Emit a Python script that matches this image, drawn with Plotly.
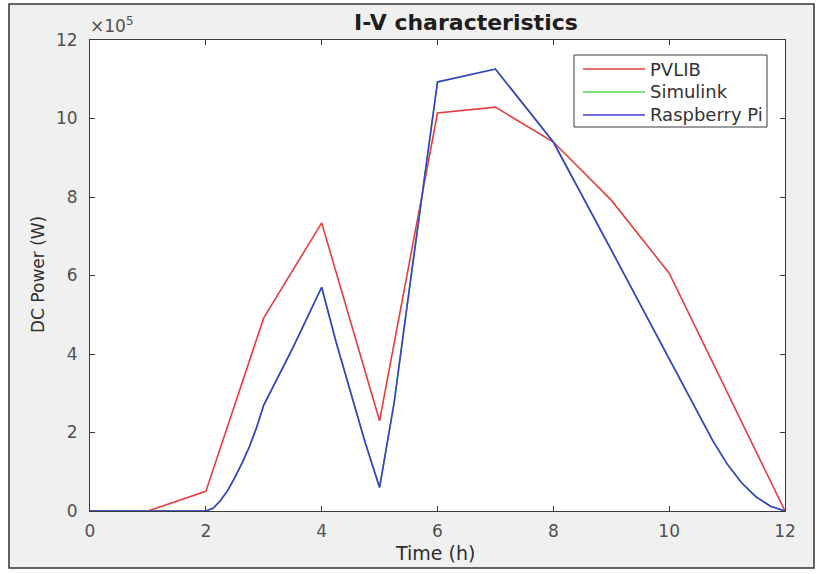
import plotly.graph_objects as go

# ---- data (W) ----
t_pvlib = [0, 1, 2, 3, 4, 5, 6, 7, 8, 9, 10, 11, 12]
p_pvlib = [0, 0, 0.5e5, 4.92e5, 7.34e5, 2.3e5, 10.14e5, 10.29e5, 9.4e5, 7.92e5, 6.06e5, 3.03e5, 0]

t_rpi = [0, 1, 2, 2.125, 2.25, 2.375, 2.5, 2.625, 2.75, 2.875, 3, 3.5, 4,
         4.25, 4.5, 4.75, 5, 5.25, 5.5, 5.75, 6, 7, 8, 9, 10,
         10.25, 10.5, 10.75, 11, 11.25, 11.5, 11.75, 12]
p_rpi = [0, 0, 0, 0.07e5, 0.26e5, 0.52e5, 0.85e5, 1.22e5, 1.63e5, 2.12e5, 2.7e5, 4.15e5, 5.7e5,
         4.3e5, 3.0e5, 1.75e5, 0.6e5, 2.75e5, 5.5e5, 8.2e5, 10.93e5, 11.26e5, 9.4e5, 6.65e5, 3.9e5,
         3.2e5, 2.5e5, 1.8e5, 1.2e5, 0.72e5, 0.36e5, 0.12e5, 0]

# Simulink coincides with the Raspberry Pi curve (hidden underneath)
t_sim = list(t_rpi)
p_sim = list(p_rpi)

series_names = ["PVLIB", "Simulink", "Raspberry Pi"]
series_colors = ["rgb(228,62,62)", "rgb(80,215,80)", "rgb(60,60,208)"]

x_ticks = [0, 2, 4, 6, 8, 10, 12]
y_ticks = [0, 2e5, 4e5, 6e5, 8e5, 10e5, 12e5]
y_ticktext = ["0", "2", "4", "6", "8", "10", "12"]

FONT = "DejaVu Sans, Liberation Sans, Arial, sans-serif"
W, H = 818, 574
L, R, T, B = 90, 785, 40, 511  # plot area px

def px2x(px):
    return (px - L) / (R - L)

def px2y(py):
    return (B - py) / (B - T)

fig = go.Figure()
for t, p, name, col in [(t_pvlib, p_pvlib, series_names[0], series_colors[0]),
                        (t_sim, p_sim, series_names[1], series_colors[1]),
                        (t_rpi, p_rpi, series_names[2], series_colors[2])]:
    fig.add_trace(go.Scatter(x=t, y=p, mode="lines", name=name,
                             line=dict(color=col, width=1.6), showlegend=False))

axis_common = dict(showgrid=False, zeroline=False, showline=True, linecolor="#3a3a3a",
                   linewidth=1, mirror="allticks", ticks="inside", ticklen=5,
                   tickcolor="#3a3a3a", tickfont=dict(family=FONT, size=17, color="#505050"))

fig.update_xaxes(range=[0, 12], tickvals=x_ticks, ticklabelstandoff=5, **axis_common)
fig.update_yaxes(range=[0, 12e5], tickvals=y_ticks, ticktext=y_ticktext,
                 ticklabelstandoff=8, **axis_common)

shapes = []
annotations = []

# outer frame: white strips outside, dark outline
fx0, fx1, fy0, fy1 = 9, 814, 4, 568
for (a, b, c, d) in [(0, 0, fx0, H), (0, 0, W, fy0), (fx1, 0, W, H), (0, fy1, W, H)]:
    shapes.append(dict(type="rect", xref="paper", yref="paper",
                       x0=px2x(a), x1=px2x(c), y0=px2y(b), y1=px2y(d),
                       fillcolor="white", line=dict(width=0), layer="below"))
shapes.append(dict(type="rect", xref="paper", yref="paper",
                   x0=px2x(fx0), x1=px2x(fx1), y0=px2y(fy0), y1=px2y(fy1),
                   line=dict(color="#333333", width=1.5), fillcolor="rgba(0,0,0,0)"))

# legend (manual, MATLAB style)
shapes.append(dict(type="rect", xref="paper", yref="paper",
                   x0=px2x(574), x1=px2x(767), y0=px2y(127), y1=px2y(55),
                   line=dict(color="#3a3a3a", width=1), fillcolor="white"))
for i, (name, col) in enumerate(zip(series_names, series_colors)):
    yy = px2y(69 + 23 * i)
    shapes.append(dict(type="line", xref="paper", yref="paper",
                       x0=px2x(583), x1=px2x(645), y0=yy, y1=yy,
                       line=dict(color=col, width=1.6)))
    annotations.append(dict(x=px2x(648), y=yy, xref="paper", yref="paper",
                            text=name, showarrow=False, xanchor="left", yanchor="middle",
                            font=dict(family=FONT, size=18, color="#333333")))

# title
annotations.append(dict(x=px2x(466), y=px2y(22), xref="paper", yref="paper",
                        text="<b>I-V characteristics</b>", showarrow=False,
                        xanchor="center", yanchor="middle",
                        font=dict(family=FONT, size=22, color="#1e1e1e")))
# axis titles
annotations.append(dict(x=px2x(435), y=px2y(553), xref="paper", yref="paper",
                        text="Time (h)", showarrow=False, xanchor="center", yanchor="middle",
                        font=dict(family=FONT, size=19, color="#2e2e2e")))
annotations.append(dict(x=px2x(38), y=px2y(275), xref="paper", yref="paper",
                        text="DC Power (W)", showarrow=False, textangle=-90,
                        xanchor="center", yanchor="middle",
                        font=dict(family=FONT, size=17, color="#2e2e2e")))
# exponent
annotations.append(dict(x=px2x(88), y=px2y(38), xref="paper", yref="paper",
                        text="×10<sup>5</sup>", showarrow=False, xanchor="left", yanchor="bottom",
                        font=dict(family=FONT, size=17, color="#505050")))

fig.update_layout(width=W, height=H,
                  margin=dict(l=L, r=W - R, t=T, b=H - B, pad=0),
                  paper_bgcolor="#f0f0f0", plot_bgcolor="white",
                  shapes=shapes, annotations=annotations, showlegend=False)

fig.write_html("out.html")
